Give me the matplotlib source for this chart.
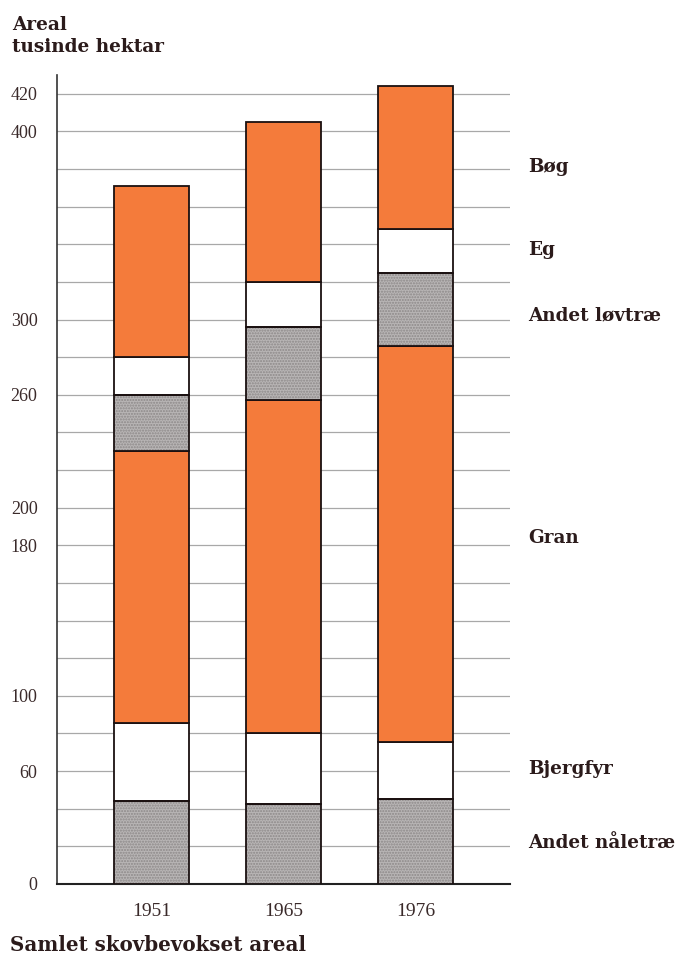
import numpy as np
import matplotlib.pyplot as plt
from matplotlib import transforms

years = ["1951", "1965", "1976"]
andet_naaletrae = [44, 42.5, 45]
bjergfyr = [41.5, 37.5, 30.5]
gran = [144.5, 177, 210.5]
andet_loevtrae = [30, 39, 38.5]
eg = [20, 24, 23.5]
boeg = [91, 85, 76]

series = [andet_naaletrae, bjergfyr, gran, andet_loevtrae, eg, boeg]
series_names = ["Andet nåletræ", "Bjergfyr", "Gran", "Andet løvtræ", "Eg", "Bøg"]
label_pos = [22, 61, 184, 302, 337, 381]   # where the right-hand labels sit
tick_vals = [0, 60, 100, 180, 200, 260, 300, 400, 420]

orange = "#f47b3b"
grey = "#b8b5b5"
textcol = "#2b1b1b"
styles = [grey, "white", orange, grey, "white", orange]

plt.rcParams['font.family'] = ['Liberation Serif', 'DejaVu Serif']
boldfont = ['DejaVu Serif']

fig = plt.figure(figsize=(6.75, 9.59), dpi=100)
ax = fig.add_axes([57/675, 1-884/959, (510-57)/675, (884-75)/959])

x = np.arange(len(years))
w = 0.57
bottom = np.zeros(len(years))
for vals, col in zip(series, styles):
    vals = np.array(vals)
    if col == grey:
        ax.bar(x, vals, w, bottom=bottom, color=col, edgecolor="#8c8888",
               hatch="......", linewidth=0, zorder=3)
        ax.bar(x, vals, w, bottom=bottom, fill=False, edgecolor="#1a1010",
               linewidth=1.3, zorder=4)
    else:
        ax.bar(x, vals, w, bottom=bottom, color=col, edgecolor="#1a1010",
               linewidth=1.3, zorder=3)
    bottom += vals

ax.set_xlim(-0.716, 2.716)
ax.set_ylim(0, 430)
for g in np.arange(20, 421, 20):
    ax.axhline(g, color="#a8a8a8", linewidth=0.9, zorder=1)

ax.set_yticks(tick_vals)
ax.set_yticklabels([str(t) for t in tick_vals], fontsize=13, color="#3a2a2a")
ax.tick_params(axis="y", length=0, pad=14)
ax.set_xticks(x)
ax.set_xticklabels(years, fontsize=14, color="#3a2a2a")
ax.tick_params(axis="x", length=0, pad=14)

for s in ["top", "right"]:
    ax.spines[s].set_visible(False)
ax.spines["left"].set_color("#333333")
ax.spines["bottom"].set_color("#222222")
ax.spines["left"].set_linewidth(1.2)
ax.spines["bottom"].set_linewidth(1.5)

trans = transforms.blended_transform_factory(fig.transFigure, ax.transData)
for name, yy in zip(series_names, label_pos):
    ax.text(528/675, yy, name, transform=trans, family=boldfont,
            fontsize=13.2, fontweight="bold", color=textcol, va="center")

fig.text(12/675, 1-36/959, "Areal\ntusinde hektar", family=boldfont, fontsize=13.3,
         fontweight="bold", color=textcol, va="center", ha="left", linespacing=1.3)
fig.text(10/675, 1-945/959, "Samlet skovbevokset areal", family=boldfont, fontsize=14.3,
         fontweight="bold", color=textcol, va="center", ha="left")

fig.savefig("out.png", dpi=100)
